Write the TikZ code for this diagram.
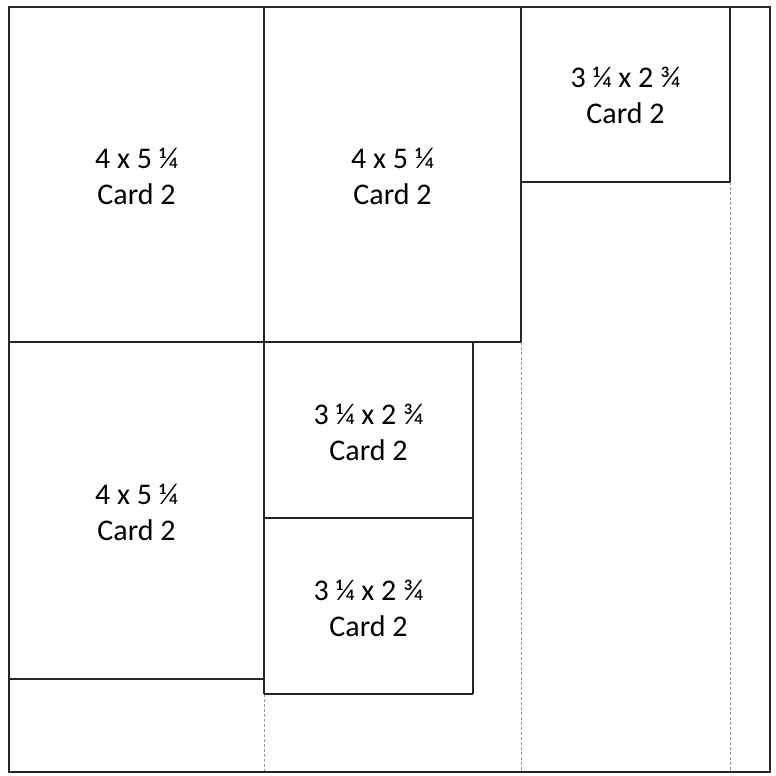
\documentclass[tikz,border=0pt]{standalone}
\usepackage{fontspec}
\setmainfont{Carlito}
\begin{document}
\begin{tikzpicture}[x=1pt,y=-1pt,
  cut/.style={draw=black!85,line width=1.1pt},
  fold/.style={draw=black!40,line width=0.8pt,dash pattern=on 3pt off 2pt},
  lbl/.style={align=center,font=\fontsize{30}{36}\selectfont,text=black,inner sep=0pt}]
\useasboundingbox (0,0) rectangle (776,776);
% dashed fold lines
\draw[fold] (264,694) -- (264,772);
\draw[fold] (521,342) -- (521,772);
\draw[fold] (730,182) -- (730,772);
% card outlines
\draw[cut] (264,7) -- (264,694);
\draw[cut] (521,7) -- (521,342);
\draw[cut] (730,7) -- (730,182);
\draw[cut] (473,342) -- (473,694);
\draw[cut] (9,342) -- (521,342);
\draw[cut] (521,182) -- (730,182);
\draw[cut] (9,679) -- (264,679);
\draw[cut] (264,518) -- (473,518);
\draw[cut] (264,694) -- (473,694);
% outer border
\draw[cut,line width=1.3pt] (9,7) rectangle (770,772);
% labels
\node[lbl] (a) at (136.5,176) {4 x 5 ¼\\Card 2};
\node[lbl] (b) at (392.5,176) {4 x 5 ¼\\Card 2};
\node[lbl] (c) at (625.5,95) {3 ¼ x 2 ¾\\Card 2};
\node[lbl] (d) at (136.5,512) {4 x 5 ¼\\Card 2};
\node[lbl] (e) at (368.5,432) {3 ¼ x 2 ¾\\Card 2};
\node[lbl] (f) at (368.5,608) {3 ¼ x 2 ¾\\Card 2};
\end{tikzpicture}
\end{document}
